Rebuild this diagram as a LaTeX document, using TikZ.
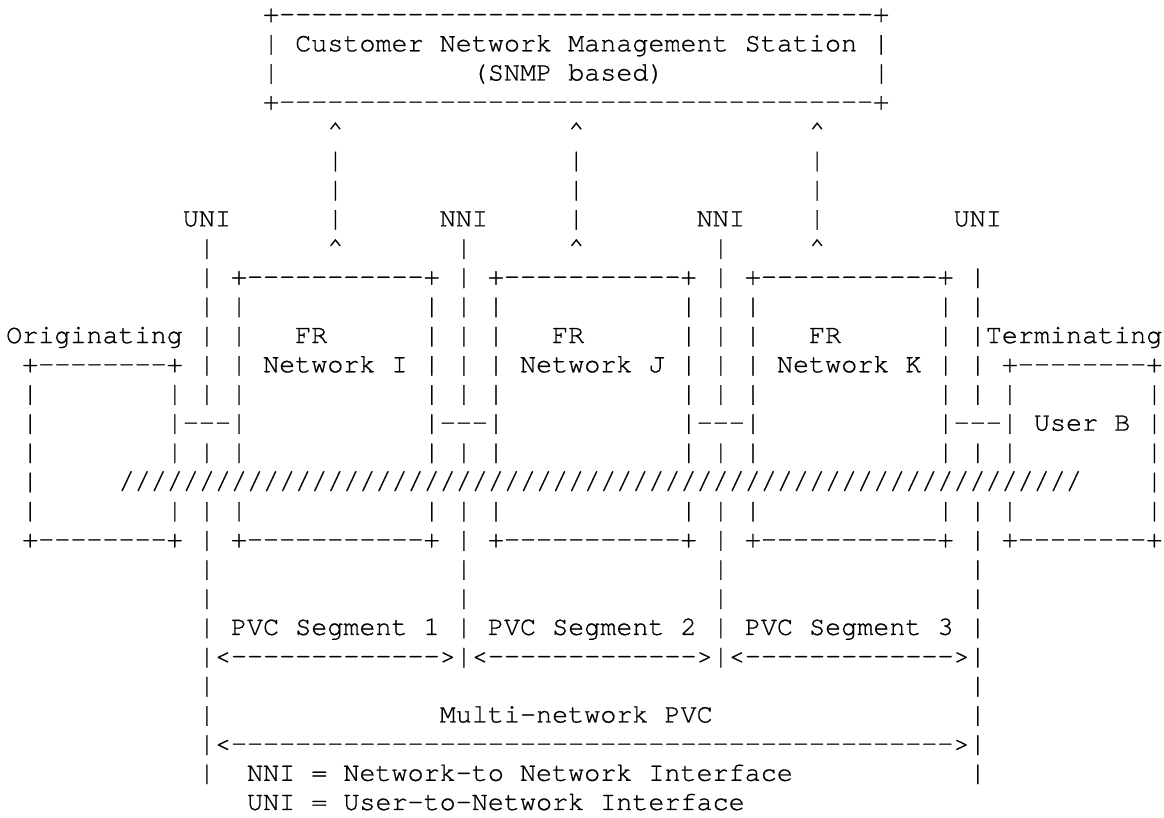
\documentclass[tikz,border=0pt]{standalone}
\usepackage{fontspec}
\setmonofont{TeX Gyre Cursor}[FakeBold=0.8]
\usetikzlibrary{positioning}

\tikzset{
  ch/.style={font=\ttfamily\fontsize{9.93}{10.83}\selectfont,
    anchor=base west, inner sep=0pt, outer sep=0pt, yshift=2.63pt},
}

\begin{document}
\begin{tikzpicture}[x=5.96pt, y=-10.83pt]
  \useasboundingbox (-2.3pt,0pt) rectangle (429.7pt,-303.24pt);

  % management station
  \node[ch] (nms-top) at (16,1) {+-------------------------------------+};
  \node[ch] (nms-name) at (16,2) {| Customer Network Management Station |};
  \node[ch] (nms-l3) at (16,3) {|};
  \node[ch] (nms-snmp) at (29,3) {(SNMP based)};
  \node[ch] (nms-r3) at (54,3) {|};
  \node[ch] (nms-bot) at (16,4) {+-------------------------------------+};

  \foreach \c [count=\i] in {20,35,50} {
    \node[ch] (up\i-5) at (\c,5) {\textasciicircum};
    \foreach \r in {6,7,8}
      \node[ch] (up\i-\r) at (\c,\r) {|};
    \node[ch] (up\i-9) at (\c,9) {\textasciicircum};
  }

  % interfaces
  \node[ch] (uni-a) at (11,8) {UNI};
  \node[ch] (nni-a) at (27,8) {NNI};
  \node[ch] (nni-b) at (43,8) {NNI};
  \node[ch] (uni-b) at (59,8) {UNI};
  \foreach \c in {12,28,44}
    \node[ch] (if\c-9) at (\c,9) {|};
  \foreach \c in {12,28,44,60}
    \foreach \r in {10,11,12,13,14,16,18,19,20,21,22,23}
      \node[ch] (if\c-\r) at (\c,\r) {|};
  \foreach \c in {12,60}
    \foreach \r in {24,25,26,27}
      \node[ch] (if\c-\r) at (\c,\r) {|};

  % FR networks
  \foreach \c/\id in {14/I,30/J,46/K} {
    \node[ch] (fr\id-top) at (\c,10) {+-----------+};
    \foreach \r in {11,12,13,14,15,16,18} {
      \node[ch] (fr\id-l\r) at (\c,\r) {|};
      \node[ch] (fr\id-r\r) at (\c+12,\r) {|};
    }
    \node[ch] (fr\id-bot) at (\c,19) {+-----------+};
    \node[ch] (fr\id-fr) at (\c+4,12) {FR};
    \node[ch] (fr\id-name) at (\c+2,13) {Network \id};
  }

  % originating user
  \node[ch] (orig-lbl) at (0,12) {Originating};
  \node[ch] (orig-top) at (1,13) {+--------+};
  \foreach \r in {14,15,16,17,18}
    \node[ch] (orig-l\r) at (1,\r) {|};
  \foreach \r in {14,15,16,18}
    \node[ch] (orig-r\r) at (10,\r) {|};
  \node[ch] (orig-bot) at (1,19) {+--------+};

  % terminating user
  \node[ch] (term-lbl) at (61,12) {Terminating};
  \node[ch] (term-top) at (62,13) {+--------+};
  \foreach \r in {14,15,16,18}
    \node[ch] (term-l\r) at (62,\r) {|};
  \foreach \r in {14,15,16,17,18}
    \node[ch] (term-r\r) at (71,\r) {|};
  \node[ch] (term-user) at (64,15) {User B};
  \node[ch] (term-bot) at (62,19) {+--------+};

  \foreach \c in {11,27,43,59}
    \node[ch] (link\c) at (\c,15) {---};
  \node[ch] (pvc-path) at (7,17) {////////////////////////////////////////////////////////////};

  % PVC segments
  \foreach \c/\k in {14/1,30/2,46/3} {
    \node[ch] (seg\k-lbl) at (\c,22) {PVC Segment \k};
    \node[ch] (seg\k-arr) at (\c-1,23) {<------------->};
  }
  \node[ch] (multi-lbl) at (27,25) {Multi-network PVC};
  \node[ch] (multi-arr) at (13,26) {<--------------------------------------------->};

  \node[ch] (key-nni) at (15,27) {NNI = Network-to Network Interface};
  \node[ch] (key-uni) at (15,28) {UNI = User-to-Network Interface};
\end{tikzpicture}
\end{document}
